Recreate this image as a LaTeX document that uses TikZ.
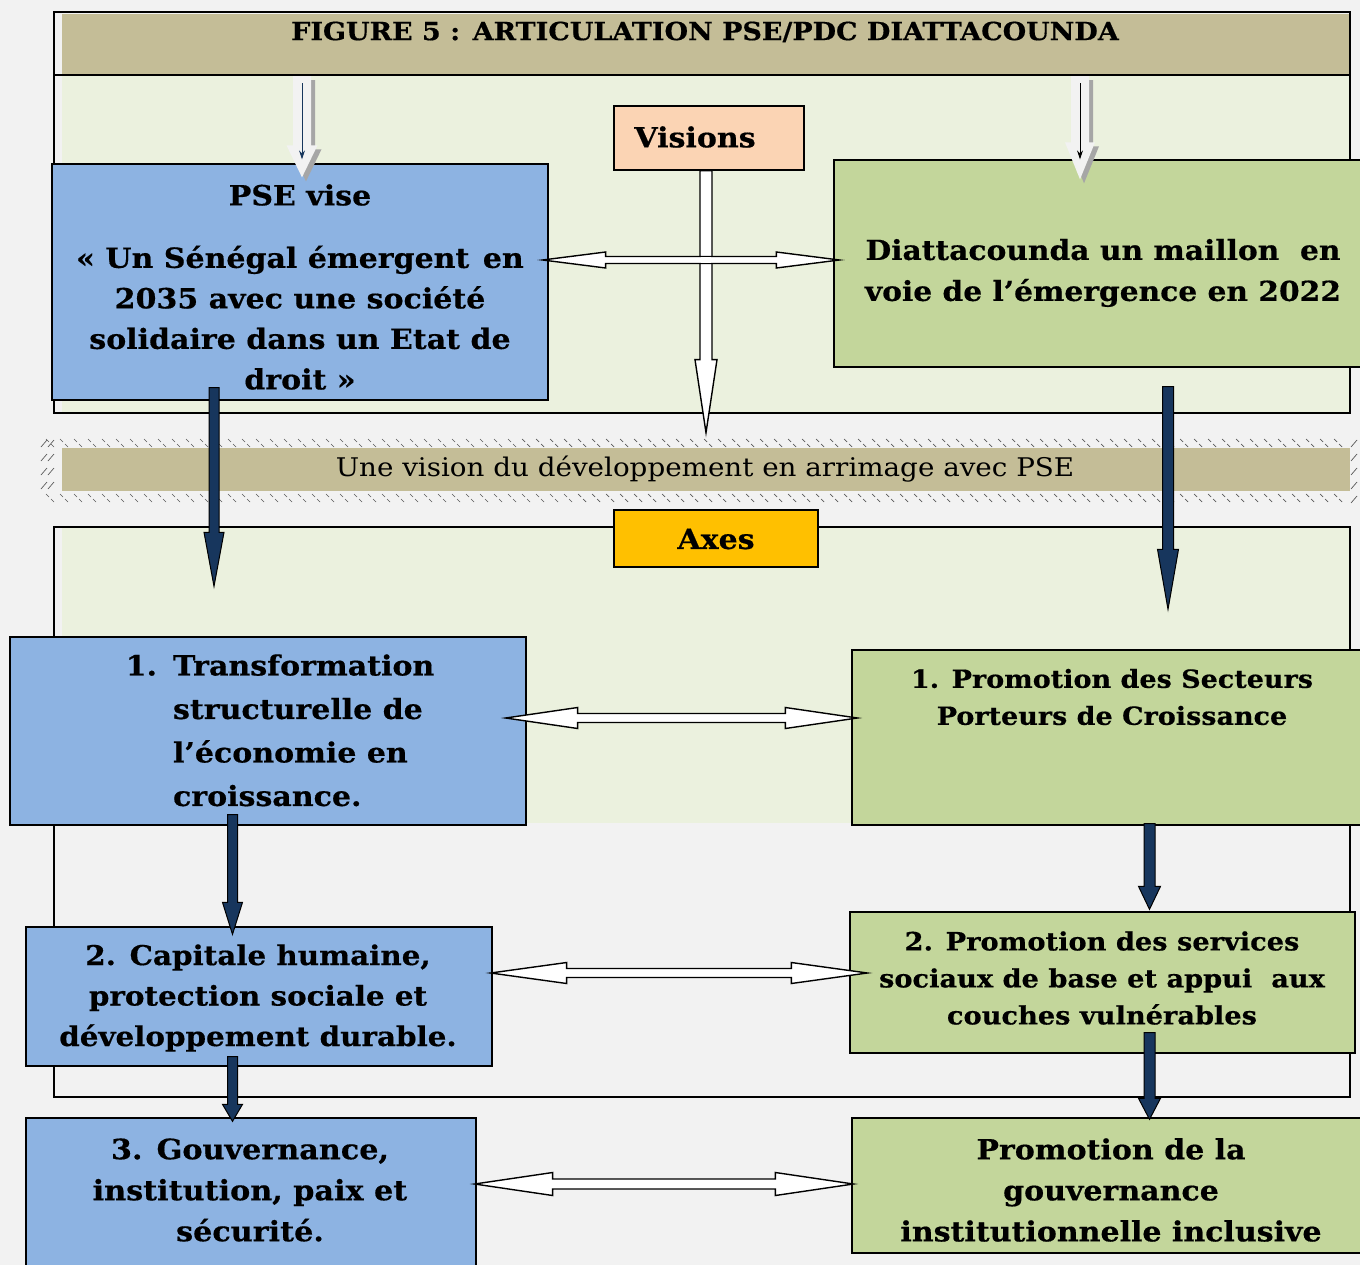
\documentclass[tikz,border=0pt]{standalone}
\usepackage{fontspec}
\setmainfont{DejaVu Serif}[FakeStretch=1.08, BoldFeatures={FakeBold=0.5}]
\usetikzlibrary{calc,arrows.meta}
\definecolor{bgc}{HTML}{F2F2F2}
\definecolor{boxblue}{HTML}{8DB3E2}
\definecolor{boxgreen}{HTML}{C3D69B}
\definecolor{tanc}{HTML}{C4BD97}
\definecolor{lgreen}{HTML}{EBF1DE}
\definecolor{peach}{HTML}{FBD4B4}
\definecolor{gold}{HTML}{FFC000}
\definecolor{navy}{HTML}{17365D}
\newcommand\blockarrow[6]{%
  \coordinate (ba-h) at ($(#3)!#6!(#2)$);
  \path[#1] ($(#2)!#4!90:(#3)$) -- ($(ba-h)!#4!90:(#3)$) -- ($(ba-h)!#5!90:(#3)$) -- (#3)
    -- ($(ba-h)!#5!-90:(#3)$) -- ($(ba-h)!#4!-90:(#3)$) -- ($(#2)!#4!-90:(#3)$) -- cycle;}
\newcommand\dblarrow[6]{%
  \coordinate (da-a) at ($(#2)!#6!(#3)$);
  \coordinate (da-b) at ($(#3)!#6!(#2)$);
  \path[#1] (#2) -- ($(da-a)!#5!90:(#3)$) -- ($(da-a)!#4!90:(#3)$) -- ($(da-b)!#4!90:(#3)$)
    -- ($(da-b)!#5!90:(#3)$) -- (#3) -- ($(da-b)!#5!-90:(#3)$) -- ($(da-b)!#4!-90:(#3)$)
    -- ($(da-a)!#4!-90:(#3)$) -- ($(da-a)!#5!-90:(#3)$) -- cycle;}
\begin{document}
\begin{tikzpicture}[x=1pt,y=-1pt,
  box/.style={draw=black, line width=1.3pt, inner sep=0pt},
  bluebox/.style={box, fill=boxblue},
  greenbox/.style={box, fill=boxgreen},
  txt/.style={font=\fontsize{27.8}{40.5}\selectfont\bfseries, align=center, inner sep=0pt},
  frame/.style={draw=black, line width=1.4pt},
  dark/.style={fill=navy, draw=black, line width=1pt},
  hollow/.style={fill=white, draw=black, line width=1.4pt},
  pale/.style={fill=bgc},
  paleshadow/.style={fill=black!35, transform canvas={shift={(4pt,-4pt)}}},
  hatch/.style={black!65, line width=0.7pt},
  thinarrow/.style={line width=1pt, -{Stealth[length=9pt,width=6pt]}}]
\useasboundingbox (0,0) rectangle (1360,1265);
\fill[bgc] (0,0) rectangle (1360,1265);

% ---- top frame
\fill[lgreen] (62,76) rectangle (1350,413);
\node[fill=tanc, minimum width=1288pt, minimum height=61pt, inner sep=0pt] (T) at (706,44.5) {};
\draw[frame] (54,12) rectangle (1350,413);
\draw[frame] (54,75) -- (1350,75);
\node[font=\fontsize{25}{30}\selectfont\bfseries, inner sep=0pt] (Tt) at (705,32) {FIGURE 5 : ARTICULATION PSE/PDC DIATTACOUNDA};

% ---- band
\fill[tanc] (62,448) rectangle (1350,491);
\foreach \x in {46,60,...,1346}{
  \draw[hatch] (\x,439) -- ++(3,3);
  \draw[hatch] (\x+5,444) -- ++(3,3);
  \draw[hatch] (\x,494) -- ++(3,3);
  \draw[hatch] (\x+5,499) -- ++(3,3);
}
\foreach \y in {438,452,466,480}{
  \draw[hatch] (41,\y+9) -- ++(6,-7);
  \draw[hatch] (48,\y+9) -- ++(6,-7);
  \draw[hatch] (1351,\y+9) -- ++(6,-7);
}
\draw[hatch] (1351,503) -- ++(6,-7);
\node[font=\fontsize{25.7}{30}\selectfont, inner sep=0pt] (Bt) at (705,469) {Une vision du développement en arrimage avec PSE};

% ---- lower frame
\fill[lgreen] (62,527) rectangle (1350,823);
\draw[frame] (54,527) rectangle (1350,1097);

% ---- boxes
\node[box, fill=peach, minimum width=190pt, minimum height=64pt] (V) at (709,138) {};
\node[txt] (Vt) at (695,137) {Visions};
\node[bluebox, minimum width=496pt, minimum height=236pt] (PSE) at (300,282) {};
\node[greenbox, minimum width=528pt, minimum height=207pt] (DIA) at (1098,263.5) {};
\node[box, fill=gold, minimum width=204pt, minimum height=57pt] (Ax) at (716,538.5) {};
\node[txt] (Axt) at (716,539) {Axes};

\node[bluebox, minimum width=516pt, minimum height=188pt] (L1) at (268,731) {};
\node[greenbox, minimum width=510pt, minimum height=175pt] (R1) at (1107,737.5) {};
\node[bluebox, minimum width=466pt, minimum height=139pt] (L2) at (259,996.5) {};
\node[greenbox, minimum width=505pt, minimum height=141pt] (R2) at (1102.5,982.5) {};
\node[bluebox, minimum width=450pt, minimum height=157pt] (L3) at (251,1196.5) {};
\node[greenbox, minimum width=510pt, minimum height=135pt] (R3) at (1107,1185.5) {};

% ---- texts
\node[txt] (PSEt) at (300,287) {PSE vise\\[22pt] « Un Sénégal émergent\hspace{3pt} en\\ 2035 avec une société\\ solidaire dans un Etat de\\ droit »};
\node[txt, font=\fontsize{27.5}{41}\selectfont\bfseries] (DIAt) at (1103,273) {Diattacounda un maillon\ \ en\\ voie de l’émergence en 2022};
\node[txt, font=\fontsize{27.8}{43.5}\selectfont\bfseries, align=left] (L1t) at (280,732) {\begin{tabular}{@{}l@{\hspace{16pt}}l@{}}1. & Transformation\\ & structurelle de\\ & l’économie en\\ & croissance.\end{tabular}};
\node[txt, font=\fontsize{25}{37}\selectfont\bfseries] (R1t) at (1112,697) {1. Promotion des Secteurs\\ Porteurs de Croissance};
\node[txt, font=\fontsize{27.2}{40.5}\selectfont\bfseries] (L2t) at (258,998) {2. Capitale humaine,\\ protection sociale et\\ développement durable.};
\node[txt, font=\fontsize{25.2}{37}\selectfont\bfseries] (R2t) at (1102,978) {2. Promotion des services\\ sociaux de base et appui\ \ aux\\ couches vulnérables};
\node[txt, font=\fontsize{28}{41}\selectfont\bfseries] (L3t) at (250,1190) {3. Gouvernance,\\ institution, paix et\\ sécurité.};
\node[txt, font=\fontsize{27.8}{41}\selectfont\bfseries] (R3t) at (1111,1190) {Promotion de la\\ gouvernance\\ institutionnelle inclusive};

% ---- connector end points
\coordinate (ta1s) at ($(T.south)+(-404,1)$);
\coordinate (ta1e) at ($(PSE.north)+(2,14)$);
\coordinate (ta2s) at ($(T.south)+(374,1)$);
\coordinate (ta2e) at ($(DIA.north)+(-18,20)$);
\coordinate (vs) at ($(V.south)+(-3,0)$);
\coordinate (ve) at ($(V.south)+(-3,262)$);
\coordinate (h0s) at ($(PSE.east)+(-6,-22)$);
\coordinate (h0e) at ($(DIA.west)+(6,-3.5)$);
\coordinate (d1s) at ($(PSE.south)+(-86,-13)$);
\coordinate (d1e) at ($(L1.north)+(-54,-50)$);
\coordinate (d2s) at ($(DIA.south)+(70,19)$);
\coordinate (d2e) at ($(R1.north)+(61,-40)$);
\coordinate (d3s) at ($(L1.south)+(-35.5,-11)$);
\coordinate (d3e) at ($(L2.north)+(-26.5,8)$);
\coordinate (d4s) at ($(L2.south)+(-26.5,-10)$);
\coordinate (d4e) at ($(L3.north)+(-18.5,4)$);
\coordinate (d5s) at ($(R1.south)+(42.5,-2)$);
\coordinate (d5e) at ($(R2.north)+(47,-2)$);
\coordinate (d6s) at ($(R2.south)+(47,-21)$);
\coordinate (d6e) at ($(R3.north)+(42.5,2)$);
\coordinate (h1s) at ($(L1.east)+(-21,-13)$);
\coordinate (h1e) at ($(R1.west)+(6,-19.5)$);
\coordinate (h2s) at ($(L2.east)+(-2,-23.5)$);
\coordinate (h2e) at ($(R2.west)+(18,-9.5)$);
\coordinate (h3s) at ($(L3.east)+(-2,-12.5)$);
\coordinate (h3e) at ($(R3.west)+(2,-1.5)$);

% ---- top pale arrows with shadow
\blockarrow{paleshadow}{ta1s}{ta1e}{9pt}{15.5pt}{32pt}
\blockarrow{pale}{ta1s}{ta1e}{9pt}{15.5pt}{32pt}
\draw[thinarrow, navy] ($(ta1s)+(0,7)$) -- ($(ta1e)+(0,-18)$);
\blockarrow{paleshadow}{ta2s}{ta2e}{9pt}{15pt}{37pt}
\blockarrow{pale}{ta2s}{ta2e}{9pt}{15pt}{37pt}
\draw[thinarrow, black] ($(ta2s)+(0,7)$) -- ($(ta2e)+(0,-20)$);

% ---- visions arrows
\blockarrow{hollow}{vs}{ve}{6pt}{11pt}{73pt}
\dblarrow{hollow}{h0s}{h0e}{3.5pt}{8pt}{63pt}
\fill[white] (701,257.2) rectangle (711,262.8);

% ---- dark arrows
\blockarrow{dark}{d1s}{d1e}{5pt}{10pt}{54pt}
\blockarrow{dark}{d2s}{d2e}{5.5pt}{10.5pt}{60pt}
\blockarrow{dark}{d3s}{d3e}{5pt}{10pt}{32pt}
\blockarrow{dark}{d4s}{d4e}{5pt}{10pt}{17pt}
\blockarrow{dark}{d5s}{d5e}{5.5pt}{11pt}{23pt}
\blockarrow{dark}{d6s}{d6e}{5.5pt}{11pt}{21pt}

% ---- double arrows
\dblarrow{hollow}{h1s}{h1e}{4.5pt}{10.5pt}{72pt}
\dblarrow{hollow}{h2s}{h2e}{4.5pt}{10.5pt}{76pt}
\dblarrow{hollow}{h3s}{h3e}{5pt}{11.5pt}{78pt}
\end{tikzpicture}
\end{document}
